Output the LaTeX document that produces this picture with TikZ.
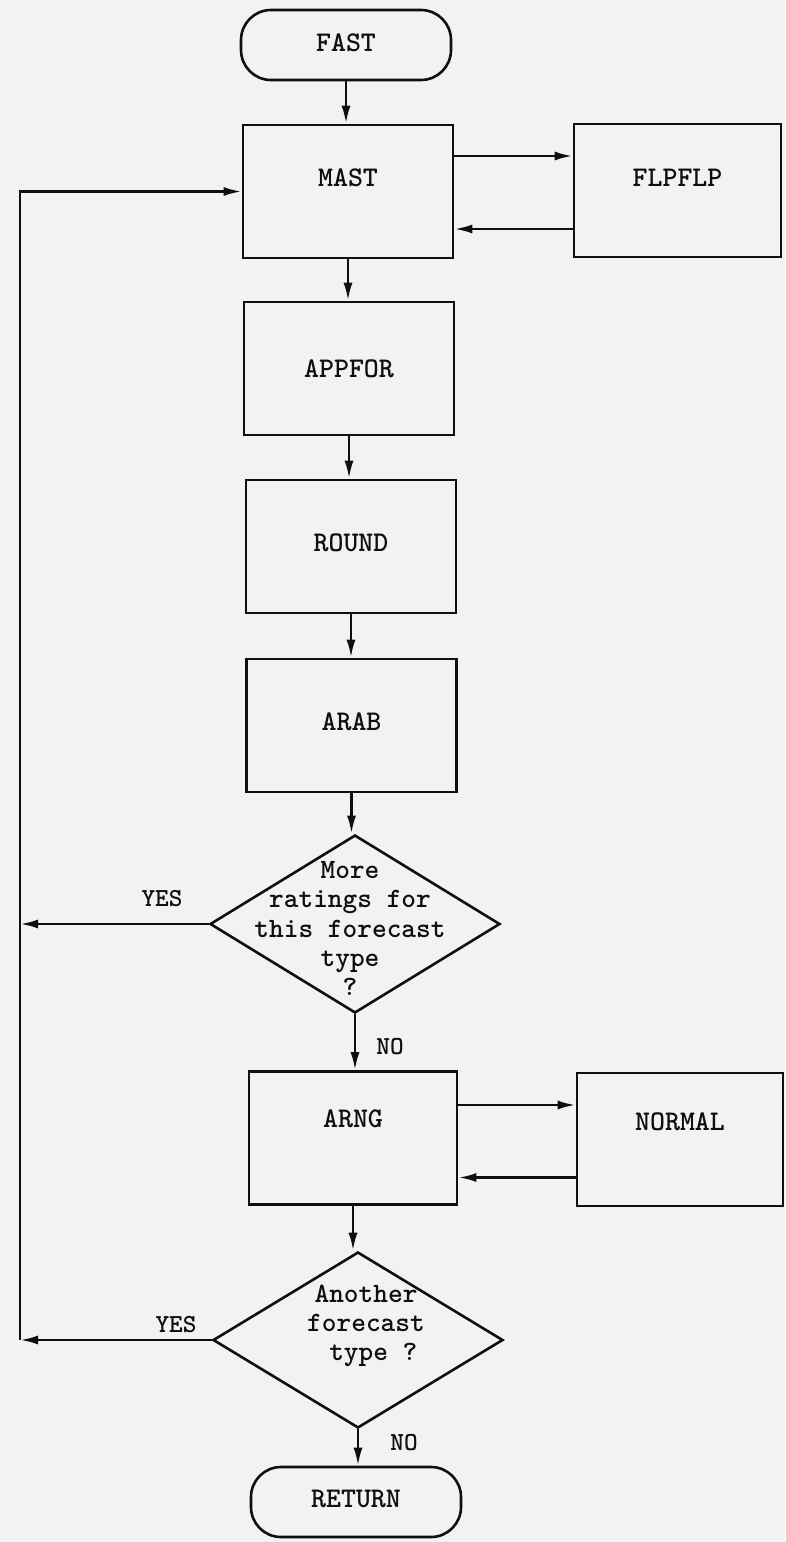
\documentclass[tikz,border=0pt]{standalone}
\usepackage{fontspec}
\usetikzlibrary{shapes.geometric,arrows.meta}
\newcommand\typewr[1]{\ttfamily\bfseries\fontsize{#1}{29.25}\selectfont}
\definecolor{paper}{RGB}{242,242,241}
\definecolor{ink}{RGB}{15,15,15}
\begin{document}
\begin{tikzpicture}[x=1pt,y=-1pt,
  box/.style={draw=ink, line width=2.6pt, rectangle, minimum width=210pt, minimum height=133pt, inner sep=0pt, text=ink, font=\typewr{28.5}, text height=17pt, text depth=0pt},
  term/.style={draw=ink, line width=2.6pt, rectangle, rounded corners=30pt, minimum width=210pt, minimum height=70pt, inner sep=0pt, text=ink, font=\typewr{28.5}, text height=17pt, text depth=0pt},
  dia/.style={draw=ink, line width=2.6pt, diamond, minimum width=290pt, minimum height=178pt, inner sep=0pt},
  qtext/.style={font=\typewr{28}, align=center, text=ink, inner sep=0pt},
  lbl/.style={font=\typewr{26}, inner sep=0pt, text=ink},
  conn/.style={draw=ink, line width=2.6pt, -{Latex[length=18pt,width=9pt]}}
]
\fill[paper] (0,0) rectangle (785,1542);
\useasboundingbox (0,0) rectangle (785,1542);

% main column
\node[term, text depth=4pt] (fast) at (346,45) {FAST};
\node[box, text depth=27pt] (mast) at (348,191.5) {MAST};
\node[box, minimum width=207pt, text depth=25pt] (flp) at (677.5,190.5) {FLPFLP};
\node[box] (appfor) at (349,368.5) {APPFOR};
\node[box, text depth=7pt] (round) at (351,546.5) {ROUND};
\node[box, text depth=7pt] (arab) at (351.5,725.5) {ARAB};
\node[dia] (d1) at (355,924) {};
\node[qtext] (d1t) at (350,928.5) {More\\ratings for\\this forecast\\type\\?};
\node[box, minimum width=208pt, text depth=38pt] (arng) at (353,1138) {ARNG};
\node[box, minimum width=206pt, text depth=35pt] (normal) at (680,1139.5) {NORMAL};
\node[dia, minimum height=176pt] (d2) at (358,1340) {};
\node[qtext] (d2t) at (366,1326) {Another\\forecast\\\ type ?};
\node[term, text depth=6pt] (ret) at (356,1502) {RETURN};

% labels
\node[lbl] (yes1) at (162,899) {YES};
\node[lbl] (no1) at (390,1047) {NO};
\node[lbl] (yes2) at (176,1325) {YES};
\node[lbl] (no2) at (404,1443) {NO};

% loop coordinates
\coordinate (ctop) at (20,191.5);
\coordinate (cmid) at (20,924);
\coordinate (cbot) at (20,1340);

% vertical flow
\draw[conn] (fast.south) -- (fast.south |- mast.north);
\draw[conn] (mast.south) -- (mast.south |- appfor.north);
\draw[conn] (appfor.south) -- (appfor.south |- round.north);
\draw[conn] (round.south) -- (round.south |- arab.north);
\draw[conn] (arab.south) -- (arab.south |- d1.north);
\draw[conn] (d1.south) -- (d1.south |- arng.north);
\draw[conn] (arng.south) -- (arng.south |- d2.north);
\draw[conn] (d2.south) -- (d2.south |- ret.north);

% side calls
\draw[conn] ([yshift=35.5pt]mast.east) -- ([yshift=35.5pt]mast.east -| flp.west);
\draw[conn] ([yshift=-38.5pt]flp.west) -- ([yshift=-38.5pt]flp.west -| mast.east);
\draw[conn] ([yshift=33pt]arng.east) -- ([yshift=33pt]arng.east -| normal.west);
\draw[conn] ([yshift=-38pt]normal.west) -- ([yshift=-38pt]normal.west -| arng.east);

% loop back
\draw[conn] (d1.west) -- (cmid);
\draw[conn] (d2.west) -- (cbot);
\draw[conn] (cbot) -- (ctop) -- (mast.west);
\end{tikzpicture}
\end{document}
